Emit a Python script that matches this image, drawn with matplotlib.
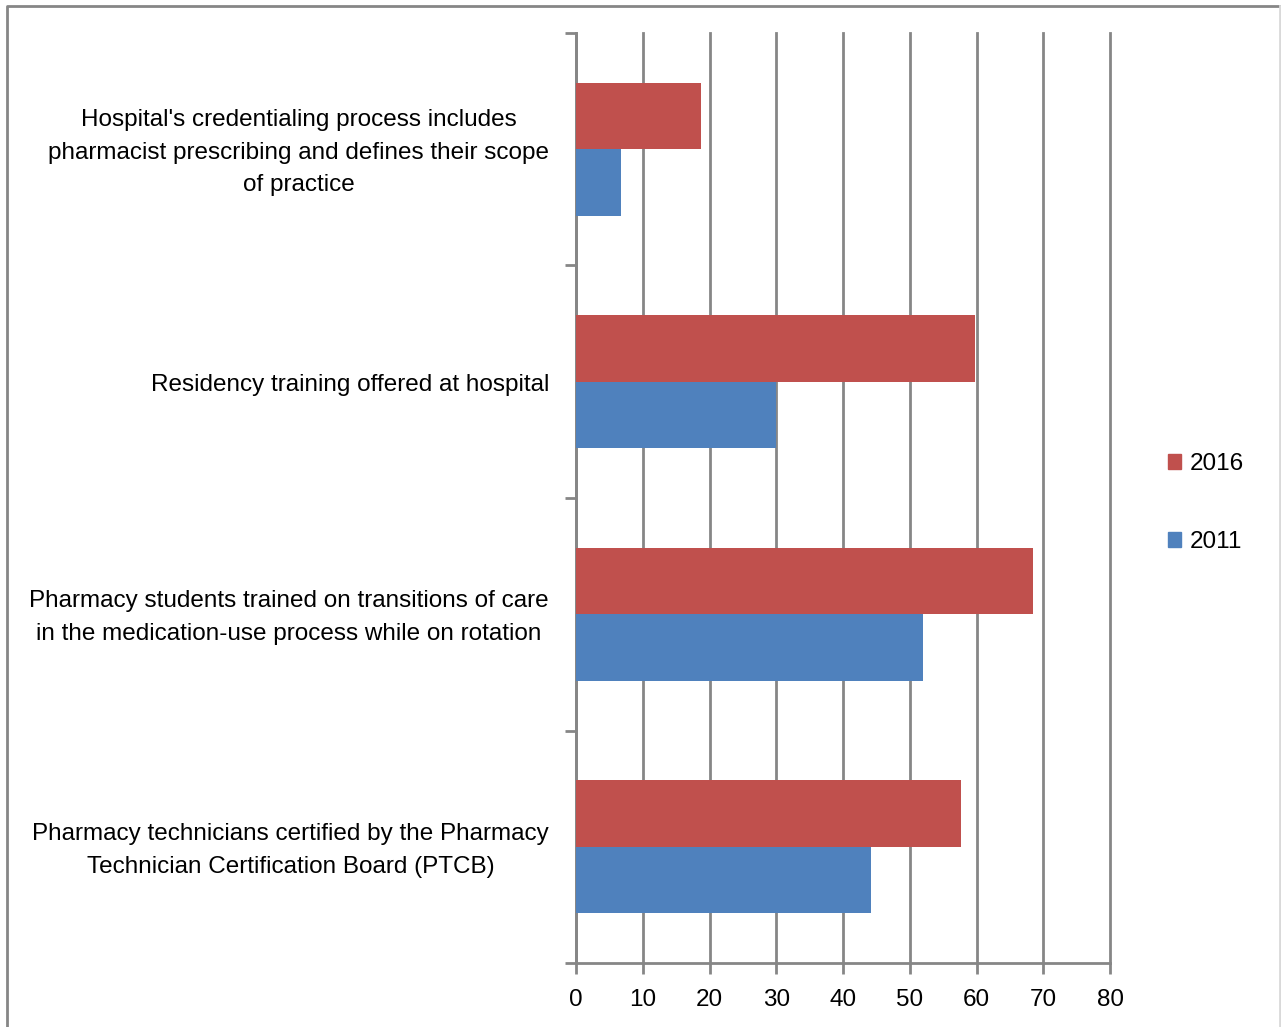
import matplotlib
matplotlib.use('Agg')
import matplotlib.pyplot as plt
from matplotlib.patches import Patch
from matplotlib.lines import Line2D
import numpy as np

categories = [
    "Hospital's credentialing process includes\npharmacist prescribing and defines their scope\nof practice",
    "Residency training offered at hospital",
    "Pharmacy students trained on transitions of care\nin the medication-use process while on rotation",
    "Pharmacy technicians certified by the Pharmacy\nTechnician Certification Board (PTCB)",
]
vals_2016 = [18.7, 59.8, 68.5, 57.7]
vals_2011 = [6.7, 30.0, 52.0, 44.2]
series_names = ['2016', '2011']
red = '#C0504D'
blue = '#4F81BD'
grey = '#868686'

plt.rcParams['font.family'] = ['Liberation Sans', 'DejaVu Sans']

fig = plt.figure(figsize=(12.81, 10.27), dpi=100)
ax = fig.add_axes([576 / 1281, 1 - 963 / 1027, 534 / 1281, 930 / 1027])

y = np.arange(len(categories))
h = 0.285
ax.barh(y - h / 2, vals_2016, height=h, color=red, zorder=3)
ax.barh(y + h / 2, vals_2011, height=h, color=blue, zorder=3)

ax.set_xlim(0, 80)
ax.set_ylim(len(categories) - 0.5, -0.5)
ax.set_xticks(range(0, 81, 10))
ax.tick_params(axis='x', direction='out', length=8, width=2, color=grey,
               labelsize=17.5, pad=11)
ax.grid(axis='x', color=grey, linewidth=2, zorder=0)
for gl in ax.xaxis.get_gridlines():
    gl.set_clip_on(False)

# category boundaries get the tick marks, names sit between them
ax.set_yticks(np.arange(len(categories) + 1) - 0.5)
ax.set_yticklabels([])
ax.tick_params(axis='y', direction='out', length=8, width=2, color=grey)
for yi, name in zip(y, categories):
    ax.text(-27 / 534, yi + 0.015, name, transform=ax.get_yaxis_transform(),
            ha='right', va='center', multialignment='center',
            fontsize=17.5, linespacing=1.62)

for side in ['top', 'right']:
    ax.spines[side].set_visible(False)
for side in ['left', 'bottom']:
    ax.spines[side].set_color(grey)
    ax.spines[side].set_linewidth(2)

handles = [Patch(color=red, label=series_names[0]), Patch(color=blue, label=series_names[1])]
fig.legend(handles=handles, loc='center left', bbox_to_anchor=(1146 / 1281, 1 - 503 / 1027),
           frameon=False, fontsize=17.5, handlelength=0.55, handleheight=0.55,
           handletextpad=0.35, labelspacing=2.3)

# outer chart frame
fx0, fx1, fy1 = 6.5 / 1281, 1279.5 / 1281, 1 - 5.5 / 1027
fig.lines.append(Line2D([fx0, fx0, fx1], [-0.01, fy1, fy1], transform=fig.transFigure,
                        color=grey, linewidth=2))
fig.lines.append(Line2D([fx1, fx1], [-0.01, fy1], transform=fig.transFigure,
                        color='#d9d9d9', linewidth=2))

fig.savefig('out.png', dpi=100)
